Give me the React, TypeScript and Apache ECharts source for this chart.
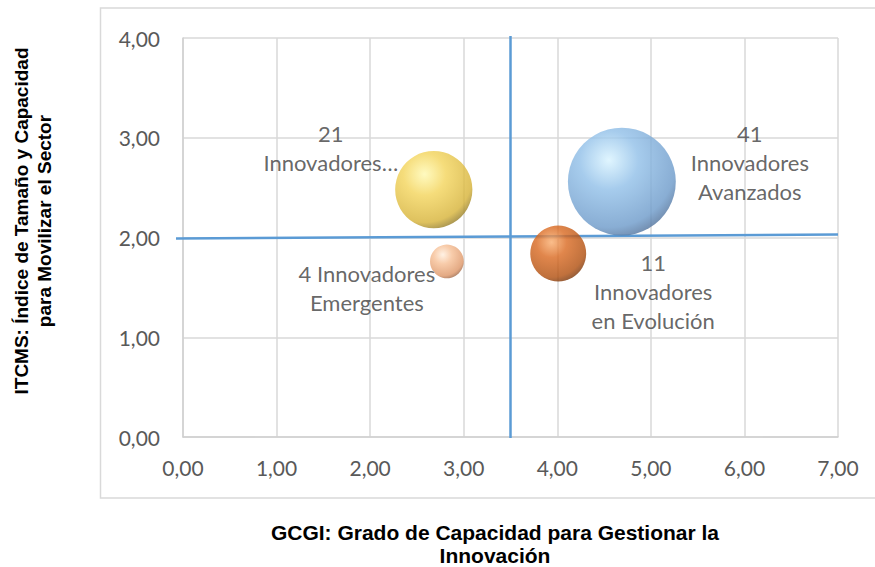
import React, { useEffect, useRef } from "react";
import * as echarts from "echarts";

// ---- data ----
const groupNames = ["Innovadores Emergentes", "Innovadores…", "Innovadores en Evolución", "Innovadores Avanzados"];
const gcgiValues = [2.82, 2.68, 4.01, 4.69]; // x
const itcmsValues = [1.76, 2.48, 1.84, 2.56]; // y
const companyCounts = [4, 21, 11, 41]; // bubble size
const labelTexts = [
  "4 Innovadores\nEmergentes",
  "21\nInnovadores…",
  "11\nInnovadores\nen Evolución",
  "41\nInnovadores\nAvanzados",
];
const xTicks = [0, 1, 2, 3, 4, 5, 6, 7];
const yTicks = [0, 1, 2, 3, 4];
const verticalRef = [
  [3.5, -0.01],
  [3.5, 4.02],
];
const horizontalRef = [
  [-0.075, 1.99],
  [7, 2.03],
];

// ---- styling ----
const sphereColors = [
  ["#ffeedd", "#f6bf95", "#dd9566", "#86553a"],
  ["#fff9b0", "#f3d45a", "#d6b236", "#7a6620"],
  ["#f9ad6e", "#d9681f", "#b04d0c", "#652b06"],
  ["#d8f3ff", "#90bfe8", "#6b99c9", "#44628a"],
];
const labelOffsets = [
  [-80, 27],
  [-103, -42],
  [95, 38],
  [128, -19],
];

const fmt = (v: number) => v.toFixed(2).replace(".", ",");

export default function App() {
  const ref = useRef<HTMLDivElement>(null);
  useEffect(() => {
    document.body.style.margin = "0";
    const chart = echarts.init(ref.current!, null, { renderer: "svg" });
    const bubbleData = groupNames.map((name, i) => {
      const c = sphereColors[i];
      return {
        name,
        value: [gcgiValues[i], itcmsValues[i], companyCounts[i]],
        itemStyle: {
          color: new echarts.graphic.RadialGradient(0.38, 0.3, 0.78, [
            { offset: 0, color: c[0] },
            { offset: 0.35, color: c[1] },
            { offset: 0.8, color: c[2] },
            { offset: 1, color: c[3] },
          ]),
        },
        label: {
          show: true,
          position: "inside",
          formatter: labelTexts[i],
          offset: labelOffsets[i],
        },
      };
    });
    chart.setOption({
      animation: false,
      backgroundColor: "#ffffff",
      grid: { left: 183, top: 38, right: 37, bottom: 130 },
      xAxis: {
        type: "value",
        min: xTicks[0],
        max: xTicks[xTicks.length - 1],
        interval: 1,
        axisLine: { show: true, lineStyle: { color: "#d0d0d0", width: 1.5 } },
        axisTick: { show: false },
        splitLine: { show: true, lineStyle: { color: "#d9d9d9", width: 1.5 } },
        axisLabel: {
          formatter: fmt,
          color: "#595959",
          fontFamily: "Lato",
          fontSize: 21,
          margin: 20,
        },
      },
      yAxis: {
        type: "value",
        min: yTicks[0],
        max: yTicks[yTicks.length - 1],
        interval: 1,
        axisLine: { show: true, lineStyle: { color: "#d0d0d0", width: 1.5 } },
        axisTick: { show: false },
        splitLine: { show: true, lineStyle: { color: "#d9d9d9", width: 1.5 } },
        axisLabel: {
          formatter: fmt,
          color: "#595959",
          fontFamily: "Lato",
          fontSize: 21,
          margin: 23,
        },
      },
      series: [
        {
          type: "scatter",
          data: bubbleData,
          symbolSize: (v: number[]) => 16.85 * Math.sqrt(v[2]),
          z: 3,
          label: {
            color: "#404040",
            fontFamily: "Lato",
            fontSize: 22,
            lineHeight: 29,
            align: "center",
            verticalAlign: "middle",
          },
        },
      ],
    });

    const toPx = (p: number[]) => chart.convertToPixel({ gridIndex: 0 }, p) as number[];
    const refLine = (pts: number[][]) => {
      const a = toPx(pts[0]);
      const b = toPx(pts[1]);
      return {
        type: "line",
        shape: { x1: a[0], y1: a[1], x2: b[0], y2: b[1] },
        style: { stroke: "#5b9bd5", lineWidth: 2.5 },
        silent: true,
        z: 1,
        zlevel: 0,
      };
    };

    chart.setOption({
      graphic: [
        {
          type: "rect",
          shape: { x: 100.5, y: 8, width: 800, height: 490 },
          style: { fill: "none", stroke: "#d9d9d9", lineWidth: 1.5 },
          silent: true,
          z: -10,
        },
        refLine(verticalRef),
        refLine(horizontalRef),
        {
          type: "text",
          x: 495,
          y: 521,
          style: {
            text: "GCGI: Grado de Capacidad para Gestionar la\nInnovación",
            fill: "#000000",
            font: "bold 21px 'Liberation Sans', Arial, sans-serif",
            lineHeight: 23,
            align: "center",
            verticalAlign: "top",
          },
        },
        {
          type: "text",
          x: 33,
          y: 221,
          rotation: Math.PI / 2,
          style: {
            text: "ITCMS: Índice de Tamaño y Capacidad\npara Movilizar el Sector",
            fill: "#000000",
            font: "bold 19px 'Liberation Sans', Arial, sans-serif",
            lineHeight: 23,
            align: "center",
            verticalAlign: "middle",
          },
        },
      ],
    });
    return () => chart.dispose();
  }, []);
  return (
    <div
      ref={ref}
      style={{ position: "absolute", left: 0, top: 0, width: 875, height: 567 }}
    />
  );
}
